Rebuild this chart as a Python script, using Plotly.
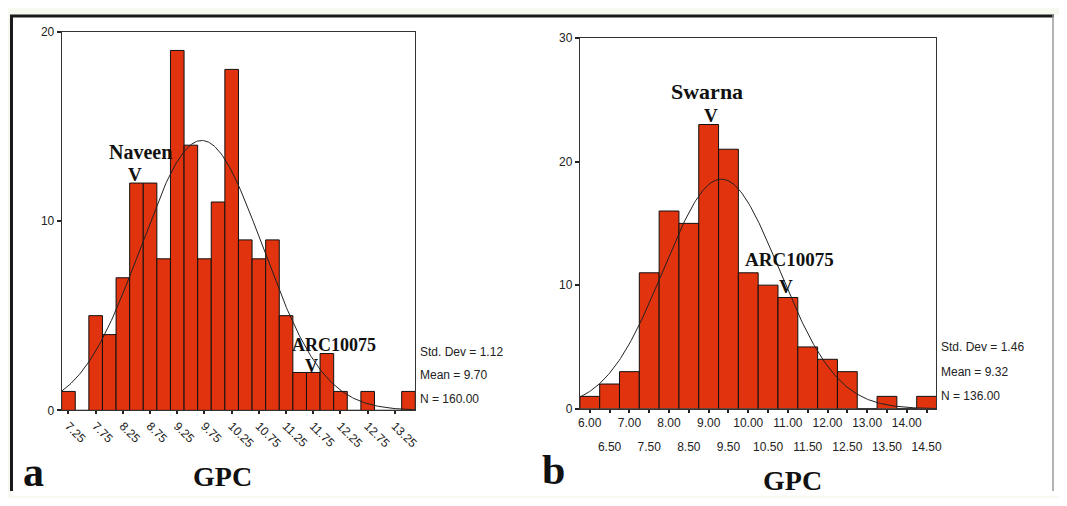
import numpy as np
import plotly.graph_objects as go

# page is 1067x506; the default body margin of 8 px surrounds the figure
OFF = 8
W, H = 1067 - 2 * OFF, 506 - 2 * OFF

# ---------------- data: panel a ----------------
a_centers = [7.25, 7.50, 7.75, 8.00, 8.25, 8.50, 8.75, 9.00, 9.25, 9.50, 9.75, 10.00, 10.25,
             10.50, 10.75, 11.00, 11.25, 11.50, 11.75, 12.00, 12.25, 12.50, 12.75, 13.00, 13.25, 13.50]
a_counts = [1, 0, 5, 4, 7, 12, 12, 8, 19, 14, 8, 11, 18, 9, 8, 9, 5, 2, 2, 3, 1, 0, 1, 0, 0, 1]
a_tickvals = [7.25, 7.75, 8.25, 8.75, 9.25, 9.75, 10.25, 10.75, 11.25, 11.75, 12.25, 12.75, 13.25]
a_ticktext = ["7.25", "7.75", "8.25", "8.75", "9.25", "9.75", "10.25", "10.75", "11.25",
              "11.75", "12.25", "12.75", "13.25"]
a_binw = 0.25
a_mean, a_sd, a_n = 9.70, 1.12, 160

# ---------------- data: panel b ----------------
b_centers = [6.00, 6.50, 7.00, 7.50, 8.00, 8.50, 9.00, 9.50, 10.00, 10.50, 11.00, 11.50,
             12.00, 12.50, 13.00, 13.50, 14.00, 14.50]
b_counts = [1, 2, 3, 11, 16, 15, 23, 21, 11, 10, 9, 5, 4, 3, 0, 1, 0, 1]
b_ticks_row1 = [6.00, 7.00, 8.00, 9.00, 10.00, 11.00, 12.00, 13.00, 14.00]
b_text_row1 = ["6.00", "7.00", "8.00", "9.00", "10.00", "11.00", "12.00", "13.00", "14.00"]
b_ticks_row2 = [6.50, 7.50, 8.50, 9.50, 10.50, 11.50, 12.50, 13.50, 14.50]
b_text_row2 = ["6.50", "7.50", "8.50", "9.50", "10.50", "11.50", "12.50", "13.50", "14.50"]
b_binw = 0.5
b_mean, b_sd, b_n = 9.32, 1.46, 136

BAR = "#e0330e"
SERIF = "Liberation Serif, Times New Roman, serif"
SANS = "Liberation Sans, Arial, sans-serif"


def px_x(p):
    return (p - OFF) / W


def px_y(p):
    return 1 - (p - OFF) / H


def normal_curve(lo, hi, mean, sd, n, binw):
    xs = np.linspace(lo, hi, 300)
    ys = n * binw / (sd * np.sqrt(2 * np.pi)) * np.exp(-0.5 * ((xs - mean) / sd) ** 2)
    return xs, ys


a_range = [a_centers[0] - a_binw / 2, a_centers[-1] + a_binw / 2]
b_range = [b_centers[0] - b_binw / 2, b_centers[-1] + b_binw / 2]

fig = go.Figure()

fig.add_trace(go.Bar(x=a_centers, y=a_counts, width=a_binw, marker=dict(color=BAR, line=dict(color="#111", width=1)),
                     xaxis="x", yaxis="y", showlegend=False, hoverinfo="skip"))
ax, ay = normal_curve(a_range[0], a_range[1], a_mean, a_sd, a_n, a_binw)
fig.add_trace(go.Scatter(x=ax, y=ay, mode="lines", line=dict(color="#222", width=1),
                         xaxis="x", yaxis="y", showlegend=False, hoverinfo="skip"))

fig.add_trace(go.Bar(x=b_centers, y=b_counts, width=b_binw, marker=dict(color=BAR, line=dict(color="#111", width=1)),
                     xaxis="x2", yaxis="y2", showlegend=False, hoverinfo="skip"))
bx, by = normal_curve(b_range[0], b_range[1], b_mean, b_sd, b_n, b_binw)
fig.add_trace(go.Scatter(x=bx, y=by, mode="lines", line=dict(color="#222", width=1),
                         xaxis="x2", yaxis="y2", showlegend=False, hoverinfo="skip"))
fig.add_trace(go.Scatter(x=[], y=[], xaxis="x3", yaxis="y2", showlegend=False))

tickfont = dict(family=SANS, size=12, color="#222")
common_x = dict(showgrid=False, zeroline=False, showline=True, linecolor="#333", linewidth=1,
                ticks="outside", ticklen=3, tickwidth=2, tickcolor="#222", tickfont=tickfont, fixedrange=True)
common_y = dict(showgrid=False, zeroline=False, showline=True, linecolor="#333", linewidth=1, mirror=True,
                ticks="outside", ticklen=4, tickwidth=2, tickcolor="#222", tickfont=tickfont, fixedrange=True)

fig.update_layout(
    width=W, height=H, autosize=False,
    margin=dict(l=0, r=0, t=0, b=0),
    paper_bgcolor="#f6f9ef",
    plot_bgcolor="white",
    bargap=0,
    xaxis=dict(domain=[px_x(60), px_x(416)], range=a_range, anchor="y", mirror=True,
               tickmode="array", tickvals=a_tickvals, ticktext=a_ticktext, tickangle=45, **common_x),
    yaxis=dict(domain=[px_y(415), px_y(25)], range=[0, 20], anchor="x",
               tickmode="array", tickvals=[0, 10, 20], **common_y),
    xaxis2=dict(domain=[px_x(581.7), px_x(940.7)], range=b_range, anchor="y2", mirror=True,
                tickmode="array", tickvals=b_ticks_row1, ticktext=b_text_row1, tickangle=0, **common_x),
    xaxis3=dict(domain=[px_x(581.7), px_x(940.7)], range=b_range, anchor="y2", overlaying="x2",
                showgrid=False, zeroline=False, showline=False, ticks="outside", ticklen=3, tickwidth=2,
                tickcolor="#222", tickfont=tickfont, tickmode="array", tickvals=b_ticks_row2,
                ticktext=b_text_row2, tickangle=0, ticklabelstandoff=24, fixedrange=True),
    yaxis2=dict(domain=[px_y(413.3), px_y(31.7)], range=[0, 30], anchor="x2",
                tickmode="array", tickvals=[0, 10, 20, 30], **common_y),
)

# frame of the figure
fig.add_shape(type="rect", xref="paper", yref="paper", x0=px_x(9.5), x1=px_x(1066), y0=px_y(503), y1=px_y(8),
              fillcolor="white", line=dict(width=0), layer="below")
fig.add_shape(type="line", xref="paper", yref="paper", x0=0, x1=1, y0=px_y(9), y1=px_y(9),
              line=dict(color="#1a1a1a", width=3))
fig.add_shape(type="line", xref="paper", yref="paper", x0=px_x(9.5), x1=px_x(9.5), y0=0, y1=1,
              line=dict(color="#1a1a1a", width=3))
fig.add_shape(type="line", xref="paper", yref="paper", x0=px_x(1058), x1=px_x(1058), y0=0, y1=px_y(8),
              line=dict(color="#9a9a9a", width=1.5))


def label(text, x, y, size, family=SERIF, bold=True, xanchor="center", color="#111"):
    fig.add_annotation(text=text, x=px_x(x), y=px_y(y), xref="paper", yref="paper", showarrow=False,
                       xanchor=xanchor, yanchor="middle",
                       font=dict(family=family, size=size, color=color, weight="bold" if bold else "normal"))


label("Naveen", 139, 149, 20)
label("V", 134, 172, 19)
label("ARC10075", 334, 348, 18)
label("V", 312, 369, 18)
label("Swarna", 710, 87, 22)
label("V", 714, 111, 19)
label("ARC10075", 793, 260, 19)
label("V", 789.5, 287, 19)
label("GPC", 222, 483, 28)
label("GPC", 796, 487, 28)
label("a", 32, 478, 42)
label("b", 555, 476, 42)

label(f"Std. Dev = {a_sd:.2f}", 419, 355, 12, family=SANS, bold=False, xanchor="left", color="#222")
label(f"Mean = {a_mean:.2f}", 419, 379, 12, family=SANS, bold=False, xanchor="left", color="#222")
label(f"N = {a_n:.2f}", 419, 403, 12, family=SANS, bold=False, xanchor="left", color="#222")
label(f"Std. Dev = {b_sd:.2f}", 943, 350, 12, family=SANS, bold=False, xanchor="left", color="#222")
label(f"Mean = {b_mean:.2f}", 943, 375, 12, family=SANS, bold=False, xanchor="left", color="#222")
label(f"N = {b_n:.2f}", 943, 400, 12, family=SANS, bold=False, xanchor="left", color="#222")

fig.write_html("out.html", config={"displayModeBar": False, "responsive": False, "staticPlot": True})
